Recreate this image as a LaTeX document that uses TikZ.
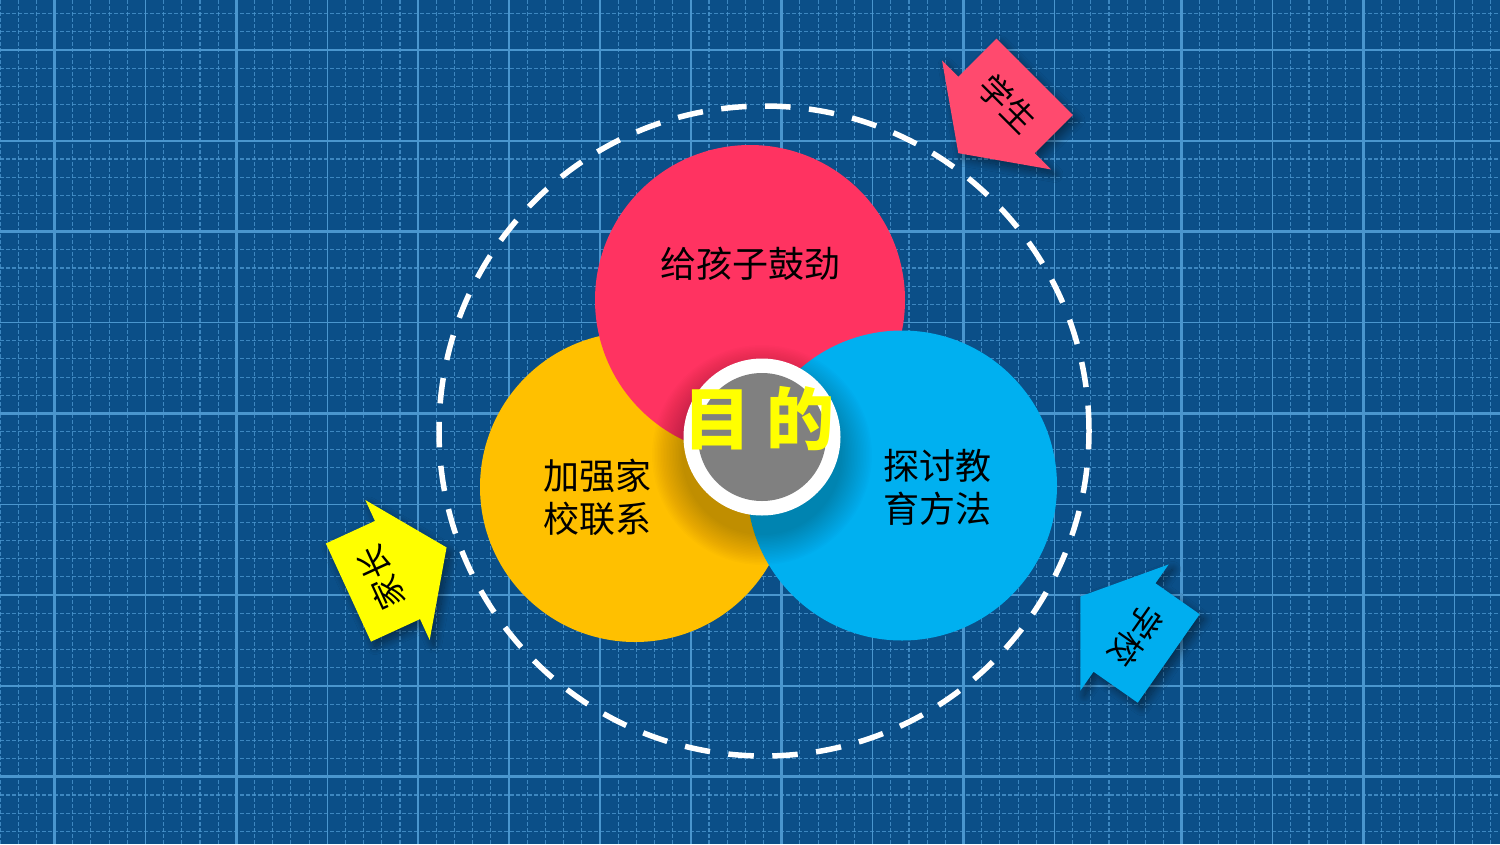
\documentclass[tikz,border=0pt]{standalone}
\usepackage{fontspec}
\newfontfamily\cjk{Noto Sans CJK SC}
\usetikzlibrary{shadows.blur}
\definecolor{bg}{HTML}{0B4F88}
\definecolor{gridc}{HTML}{4A96CE}
\definecolor{cred}{HTML}{FF3361}
\definecolor{cyel}{HTML}{FFC000}
\definecolor{cblue}{HTML}{00B0F0}
\definecolor{cpink}{HTML}{FF4A6E}
\definecolor{ayel}{HTML}{FFFF00}
\definecolor{ablue}{HTML}{00AEEF}
\definecolor{hubgray}{HTML}{808080}
\tikzset{
  minorline/.style={gridc, line width=1.1pt, dash pattern=on 3.5pt off 2.5pt, opacity=0.8},
  majorthick/.style={gridc, line width=2.6pt},
  majorthin/.style={gridc, line width=1.4pt},
  disc/.style={circle, inner sep=0pt, outer sep=0pt},
  ctext/.style={font=\cjk\fontsize{36}{43}\selectfont, text=black, align=center, inner sep=0pt},
  atext/.style={font=\cjk\fontsize{33}{36}\selectfont, text=black, inner sep=0pt},
  arrowshape/.style={blur shadow={shadow xshift=4pt, shadow yshift=-5pt, shadow blur radius=8pt, shadow blur steps=16, shadow opacity=45}}
}
\begin{document}
\begin{tikzpicture}[x=1pt,y=-1pt]
\useasboundingbox (0,0) rectangle (1500,844);
\fill[bg] (0,0) rectangle (1500,844);
% minor grid
\foreach \i in {0,...,82}{
  \draw[minorline] ({18.18*\i},0) -- ({18.18*\i},844);
}
\foreach \j in {0,...,45}{
  \draw[minorline] (0,{13.66+18.17*\j}) -- (1500,{13.66+18.17*\j});
}
% major grid
\foreach \i in {3,13,23,33,43,53,65,75}{
  \draw[majorthick] ({18.18*\i},0) -- ({18.18*\i},844);
}
\foreach \i in {8,18,28,38,48,58,70,80}{
  \draw[majorthin] ({18.18*\i},0) -- ({18.18*\i},844);
}
\foreach \k in {0,2,4,6,8}{
  \draw[majorthick] (0,{50+90.84*\k}) -- (1500,{50+90.84*\k});
}
\foreach \k in {1,3,5,7}{
  \draw[majorthin] (0,{50+90.84*\k}) -- (1500,{50+90.84*\k});
}
% dashed ring
\node[disc, draw=white, line width=5.5pt, dash pattern=on 25.5pt off 18.5pt, minimum size=650pt] (ring) at (764,431) {};
% circles
\node[disc, fill=cyel, minimum size=310pt] (yel) at (635,487) {};
\node[disc, fill=cred, minimum size=310pt] (red) at (750,300) {};
\node[disc, fill=cblue, minimum size=310pt] (blu) at (902,485.5) {};
% hub shadow (soft, stacked discs)
\coordinate (hubshadow) at (762,455);
\begin{scope}
  \clip (yel.center) circle[radius=155] (blu.center) circle[radius=155] (red.center) circle[radius=155];
  \foreach \r in {80,81.5,...,110}{
    \fill[black, opacity=0.013] (hubshadow) circle[radius=\r];
  }
\end{scope}
% hub
\node[disc, fill=white, minimum size=157pt] (hubring) at (762,437) {};
\node[disc, fill=hubgray, minimum size=128pt] (hub) at (762,437) {};
\node[font=\cjk\bfseries\fontsize{68}{80}\selectfont, text=ayel, inner sep=0pt] (goal) at (759,419) {目 的};
% texts
\node[ctext] (t1) at (750,264) {给孩子鼓劲};
\node[ctext] (t2) at (597,497) {加强家\\校联系};
\node[ctext] (t3) at (937,487) {探讨教\\育方法};
% arrows
\begin{scope}[shift={(996.5,115)}, rotate=225]
  \coordinate (a1) at (-54,54); \coordinate (a2) at (0,54); \coordinate (a3) at (0,77);
  \coordinate (a4) at (54,0); \coordinate (a5) at (0,-77); \coordinate (a6) at (0,-54);
  \coordinate (a7) at (-54,-54); \coordinate (at) at (-16,0);
\end{scope}
\draw[arrowshape, fill=cpink, draw=none] (a1) -- (a2) -- (a3) -- (a4) -- (a5) -- (a6) -- (a7) -- cycle;
\node[atext, rotate=-45] (stu) at (at) {学生};
\begin{scope}[shift={(397.5,570)}, rotate=24.7]
  \coordinate (b1) at (-54,54); \coordinate (b2) at (0,54); \coordinate (b3) at (0,77);
  \coordinate (b4) at (54,0); \coordinate (b5) at (0,-77); \coordinate (b6) at (0,-54);
  \coordinate (b7) at (-54,-54); \coordinate (bt) at (-18,0);
\end{scope}
\draw[arrowshape, fill=ayel, draw=none] (b1) -- (b2) -- (b3) -- (b4) -- (b5) -- (b6) -- (b7) -- cycle;
\node[atext, rotate=114.7] (par) at (bt) {家长};
\begin{scope}[shift={(1124.5,627.5)}, rotate=145]
  \coordinate (c1) at (-54,54); \coordinate (c2) at (0,54); \coordinate (c3) at (0,77);
  \coordinate (c4) at (54,0); \coordinate (c5) at (0,-77); \coordinate (c6) at (0,-54);
  \coordinate (c7) at (-54,-54); \coordinate (ct) at (-14,0);
\end{scope}
\draw[arrowshape, fill=ablue, draw=none] (c1) -- (c2) -- (c3) -- (c4) -- (c5) -- (c6) -- (c7) -- cycle;
\node[atext, rotate=235] (sch) at (ct) {学校};
\end{tikzpicture}
\end{document}
